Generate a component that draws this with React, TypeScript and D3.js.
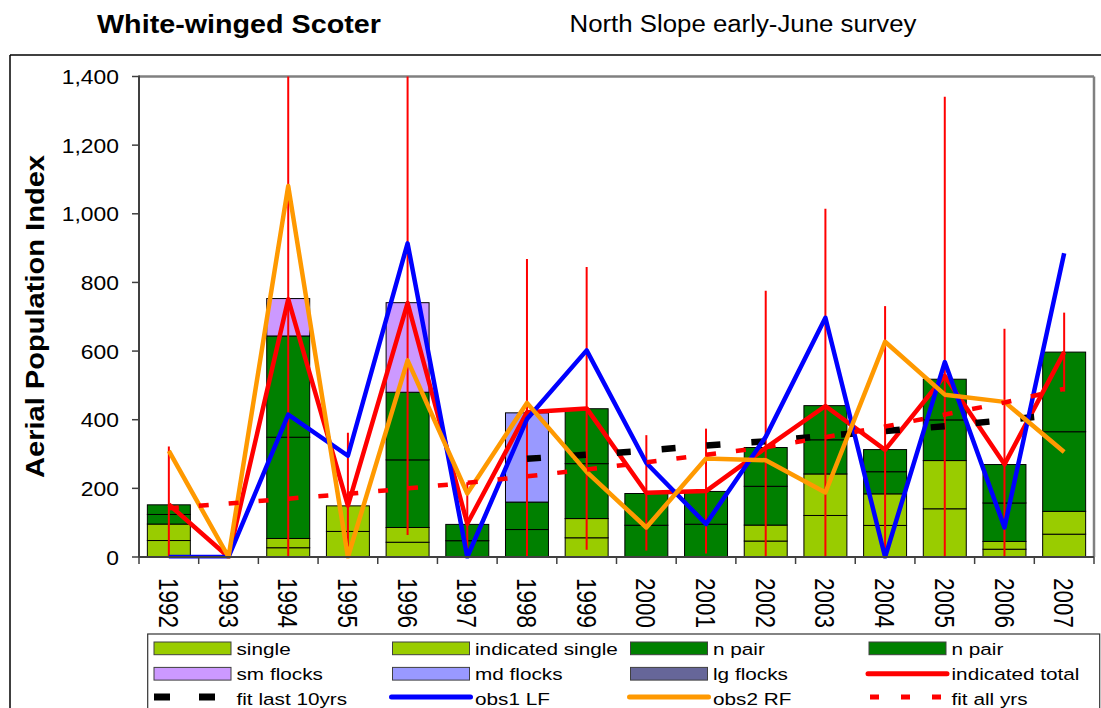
import React from 'react';
import * as d3 from 'd3';

// ---------------- data ----------------
const years = ['1992', '1993', '1994', '1995', '1996', '1997', '1998', '1999', '2000', '2001', '2002', '2003', '2004', '2005', '2006', '2007'];
const singles = [48, 0, 27, 74.5, 43, 0, 0, 56, 0, 0, 46.5, 121, 92, 140.5, 22.7, 66.5];
const indicatedSingles = [48, 0, 27, 74.5, 43, 0, 0, 56, 0, 0, 46.5, 121, 92, 140.5, 22.7, 66.5];
const nPairs = [28, 0, 295, 0, 197, 47.5, 80, 160, 92.5, 95.5, 113, 99.5, 64.5, 118.5, 112, 232];
const nPairsIndicated = [28, 0, 295, 0, 197, 47.5, 80, 160, 92.5, 95.5, 113, 99.5, 64.5, 118.5, 112, 232];
const smFlocks = [0, 0, 109, 0, 261, 0, 0, 0, 0, 0, 0, 0, 0, 0, 0, 0];
const mdFlocks = [0, 0, 0, 0, 0, 0, 260, 0, 0, 0, 0, 0, 0, 0, 0, 0];
const lgFlocks = [0, 0, 0, 0, 0, 0, 0, 0, 0, 0, 0, 0, 0, 0, 0, 0];
const indicatedTotal = [153, 0, 751, 150, 740, 97, 422, 433, 187, 192, 318, 440, 312, 528, 270, 597];
const totalErrorMargin = [169, 0, 800, 212, 676, 121, 446, 412, 168, 182, 458, 575, 419, 813, 395, 115];
const obs1LF = [0, 0, 415, 295, 914, 0, 402, 602, 274, 96, 350, 697, 0, 568, 86, 885];
const obs2RF = [309, 0, 1081, 0, 573, 185, 449, 248, 86, 287, 282, 188, 627, 473, 452, 306];
const fitAllYears = [142, 156, 170, 184, 200, 216, 235, 255, 276, 298, 320, 349, 380, 415, 450, 490];
const fitLast10Years = [286, 298, 310, 325, 337, 353, 367, 381, 399, 417];
const fitLast10StartYear = '1998';
const yTicks = [0, 200, 400, 600, 800, 1000, 1200, 1400];

const stackKeys = ['single', 'indicatedSingle', 'nPair', 'nPair2', 'sm', 'md', 'lg'];
const stackColors = ['#99CC00', '#99CC00', '#008000', '#008000', '#CC99FF', '#9999FF', '#666699'];

const legendLabels = [
  'single', 'indicated single', 'n pair', 'n pair',
  'sm flocks', 'md flocks', 'lg flocks', 'indicated total',
  'fit last 10yrs', 'obs1 LF', 'obs2 RF', 'fit all yrs',
];

// ---------------- layout ----------------
const W = 1101;
const H = 708;
const P = { left: 139, right: 1094, top: 76.5, bottom: 557 };
const FONT = '"Liberation Sans", Arial, Helvetica, sans-serif';

const table = years.map((yr, i) => ({
  year: yr,
  single: singles[i],
  indicatedSingle: indicatedSingles[i],
  nPair: nPairs[i],
  nPair2: nPairsIndicated[i],
  sm: smFlocks[i],
  md: mdFlocks[i],
  lg: lgFlocks[i],
}));

function SText(props: any) {
  const { x, y, kx = 1, rotate = 0, children, ...rest } = props;
  const t = `translate(${x},${y}) scale(${kx},1)` + (rotate ? ` rotate(${rotate})` : '');
  return (
    <text transform={t} fontFamily={FONT} fill="#000" {...rest}>
      {children}
    </text>
  );
}

export default function App() {
  const x = d3.scaleBand<string>().domain(years).range([P.left, P.right]).paddingInner(0.28).paddingOuter(0.14);
  const y = d3.scaleLinear().domain([0, 1400]).range([P.bottom, P.top]);
  const cx = (yr: string) => (x(yr) as number) + x.bandwidth() / 2;
  const step = x.step();

  const series = d3.stack<any>().keys(stackKeys)(table);

  const lineOf = (vals: number[], yrs: string[]) =>
    d3.line<number>()
      .x((_, i) => cx(yrs[i]))
      .y((d) => y(d))(vals) as string;

  const startIdx = years.indexOf(fitLast10StartYear);
  const last10Years = years.slice(startIdx, startIdx + fitLast10Years.length);

  const boundaries = d3.range(years.length + 1).map((i) => P.left + i * step);

  // legend geometry
  const colX = [154, 392.5, 630.5, 869];
  const rowC = [648.3, 673.7, 697];
  const rowBase = [654.7, 680, 705.3];

  const legendMark = (idx: number, lx: number, cy: number) => {
    if (idx < 7) {
      return <rect x={lx} y={cy - 6.3} width={77} height={12.7} fill={stackColors[idx]} stroke="#404040" strokeWidth={1} />;
    }
    const name = legendLabels[idx];
    if (name === 'indicated total') return <line x1={lx - 1} x2={lx + 78} y1={cy} y2={cy} stroke="#FF0000" strokeWidth={5} strokeLinecap="round" />;
    if (name === 'obs1 LF') return <line x1={lx - 1} x2={lx + 78} y1={cy} y2={cy} stroke="#0000FF" strokeWidth={5} strokeLinecap="round" />;
    if (name === 'obs2 RF') return <line x1={lx - 1} x2={lx + 78} y1={cy} y2={cy} stroke="#FF9900" strokeWidth={5} strokeLinecap="round" />;
    if (name === 'fit last 10yrs') return <line x1={lx} x2={lx + 77} y1={cy} y2={cy} stroke="#000" strokeWidth={7} strokeDasharray="16 29" />;
    return <line x1={lx + 1} x2={lx + 72} y1={cy} y2={cy} stroke="#FF0000" strokeWidth={5} strokeDasharray="9 22" />;
  };

  return (
    <svg width={W} height={H} viewBox={`0 0 ${W} ${H}`} style={{ position: 'absolute', left: 0, top: 0, background: '#fff' }}>
      <defs>
        <clipPath id="plotClip">
          <rect x={P.left} y={P.top} width={P.right - P.left} height={P.bottom - P.top + 1.5} />
        </clipPath>
      </defs>
      <rect x={0} y={0} width={W} height={H} fill="#fff" />

      {/* titles */}
      <SText x={97} y={33} fontSize={25} fontWeight="bold" textLength={284} lengthAdjust="spacingAndGlyphs">White-winged Scoter</SText>
      <SText x={569.5} y={31.7} fontSize={23.5} textLength={347} lengthAdjust="spacingAndGlyphs">North Slope early-June survey</SText>

      {/* outer chart frame */}
      <line x1={10} x2={W + 2} y1={55} y2={55} stroke="#000" strokeWidth={1.5} />
      <line x1={10} x2={10} y1={55} y2={H + 2} stroke="#000" strokeWidth={1.5} />

      {/* y title */}
      <SText x={44} y={316.5} rotate={-90} fontSize={26} fontWeight="bold" textAnchor="middle" textLength={323} lengthAdjust="spacingAndGlyphs">Aerial Population Index</SText>

      {/* bars */}
      {series.map((s, si) => (
        <g key={si} fill={stackColors[si]}>
          {s.map((d, i) =>
            d[1] - d[0] > 0 ? (
              <rect key={i} x={x(years[i])} y={y(d[1])} width={x.bandwidth()} height={y(d[0]) - y(d[1])} stroke="#000" strokeWidth={1} />
            ) : null
          )}
        </g>
      ))}

      {/* plot border (top/right) */}
      <line x1={P.left} x2={P.right} y1={P.top} y2={P.top} stroke="#808080" strokeWidth={2.5} />
      <line x1={P.right} x2={P.right} y1={P.top} y2={P.bottom} stroke="#808080" strokeWidth={2.5} />

      {/* error bars */}
      <g clipPath="url(#plotClip)" stroke="#FF0000" strokeWidth={2}>
        {years.map((yr, i) =>
          totalErrorMargin[i] > 0 ? (
            <line key={yr} x1={cx(yr)} x2={cx(yr)} y1={y(indicatedTotal[i] + totalErrorMargin[i])} y2={y(Math.max(0, indicatedTotal[i] - totalErrorMargin[i]))} />
          ) : null
        )}
      </g>

      {/* lines */}
      <g clipPath="url(#plotClip)" fill="none" strokeLinejoin="round">
        <path d={lineOf(indicatedTotal, years)} stroke="#FF0000" strokeWidth={4.5} />
        <path d={lineOf(fitLast10Years, last10Years)} stroke="#000" strokeWidth={6.5} strokeDasharray="14 31" />
        <path d={lineOf(obs1LF, years)} stroke="#0000FF" strokeWidth={4.5} />
        <path d={lineOf(obs2RF, years)} stroke="#FF9900" strokeWidth={4.5} />
        <path d={lineOf(fitAllYears, years)} stroke="#FF0000" strokeWidth={4.5} strokeDasharray="10 20" />
      </g>

      {/* axes */}
      <line x1={P.left} x2={P.left} y1={P.top - 1} y2={P.bottom} stroke="#404040" strokeWidth={2} />
      <line x1={P.left} x2={P.right} y1={P.bottom} y2={P.bottom} stroke="#404040" strokeWidth={2} />
      {yTicks.map((t) => (
        <g key={t}>
          <line x1={P.left - 7} x2={P.left} y1={y(t)} y2={y(t)} stroke="#404040" strokeWidth={1.5} />
          <SText x={119} y={y(t) + 7.6} kx={1.09} fontSize={21} textAnchor="end">{d3.format(',')(t)}</SText>
        </g>
      ))}
      {boundaries.map((bx, i) => (
        <line key={i} x1={bx} x2={bx} y1={P.bottom} y2={P.bottom + 7} stroke="#404040" strokeWidth={1.5} />
      ))}
      {years.map((yr) => (
        <SText key={yr} x={cx(yr)} y={578} kx={1.24} rotate={90} fontSize={22.5}>
          <tspan x={0} y={8}>{yr}</tspan>
        </SText>
      ))}

      {/* legend */}
      <rect x={147.7} y={634} width={952} height={100} fill="#fff" stroke="#333" strokeWidth={1.2} />
      {legendLabels.map((lab, idx) => {
        const r = Math.floor(idx / 4);
        const c = idx % 4;
        return (
          <g key={idx}>
            {legendMark(idx, colX[c], rowC[r])}
            <SText x={colX[c] + 82.5} y={rowBase[r]} kx={1.22} fontSize={17}>{lab}</SText>
          </g>
        );
      })}
    </svg>
  );
}
